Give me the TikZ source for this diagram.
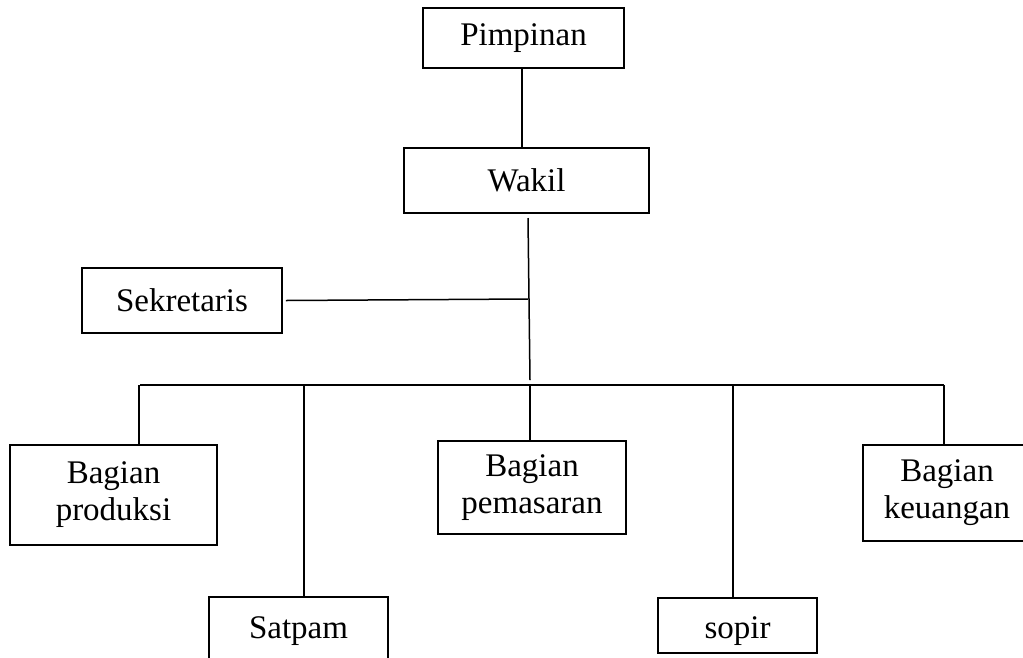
\documentclass[tikz,border=0pt]{standalone}
\usepackage{fontspec}
\setmainfont{Liberation Serif}
\begin{document}
\begin{tikzpicture}[x=1pt,y=-1pt,
  box/.style={draw=black,line width=1.8pt,rectangle,inner sep=0pt,align=center,
    font=\fontsize{33}{37}\selectfont},
  lbl/.style={inner sep=0pt,anchor=base,font=\fontsize{33}{37}\selectfont},
  conn/.style={draw=black,line width=1.5pt}]
\useasboundingbox (0,0) rectangle (1023,657);
\fill[white] (0,0) rectangle (1023,657);
\node[box,minimum width=201pt,minimum height=60pt] (pim) at (523.5,38) {Pimpinan};
\node[box,minimum width=245pt,minimum height=65pt] (wak) at (526.5,180.5) {Wakil};
\node[box,minimum width=200pt,minimum height=65pt] (sek) at (182,300.5) {Sekretaris};
\node[box,minimum width=207pt,minimum height=100pt] (prod) at (113.5,495) {Bagian\\produksi};
\node[box,minimum width=188pt,minimum height=93pt] (pem) at (532,487.5) {Bagian\\pemasaran};
\node[box,minimum width=168pt,minimum height=96pt] (keu) at (947,493) {Bagian\\keuangan};
\node[box,minimum width=179pt,minimum height=88pt] (sat) at (298.5,641) {};
\node[lbl] (sattext) at (298.5,638) {Satpam};
\node[box,minimum width=159pt,minimum height=55pt] (sop) at (737.5,625.5) {};
\node[lbl] (soptext) at (737.5,638) {sopir};
% coordinates
\coordinate (wtop) at (528,218);
\coordinate (wbot) at (530,380);
\coordinate (sj) at (528,299);
\coordinate (bl) at (140,385);
\coordinate (br) at (944,385);
\coordinate (d1) at (139,385);
\coordinate (d2) at (304,385);
\coordinate (d3) at (530,385);
\coordinate (d4) at (733,385);
\coordinate (d5) at (944,385);
% connectors
\draw[conn] (pim.south -| 522,0) -- ([yshift=-2pt]522,0 |- wak.north);
\draw[conn] (wtop) -- (wbot);
\draw[conn] (sek.east) ++(3pt,0) -- (sj);
\draw[conn] (bl) -- (br);
\draw[conn] (d1) -- (d1 |- prod.north);
\draw[conn] (d2) -- (d2 |- sat.north);
\draw[conn] (d3) -- (d3 |- pem.north);
\draw[conn] (d4) -- (d4 |- sop.north);
\draw[conn] (d5) -- (d5 |- keu.north);
\end{tikzpicture}
\end{document}
